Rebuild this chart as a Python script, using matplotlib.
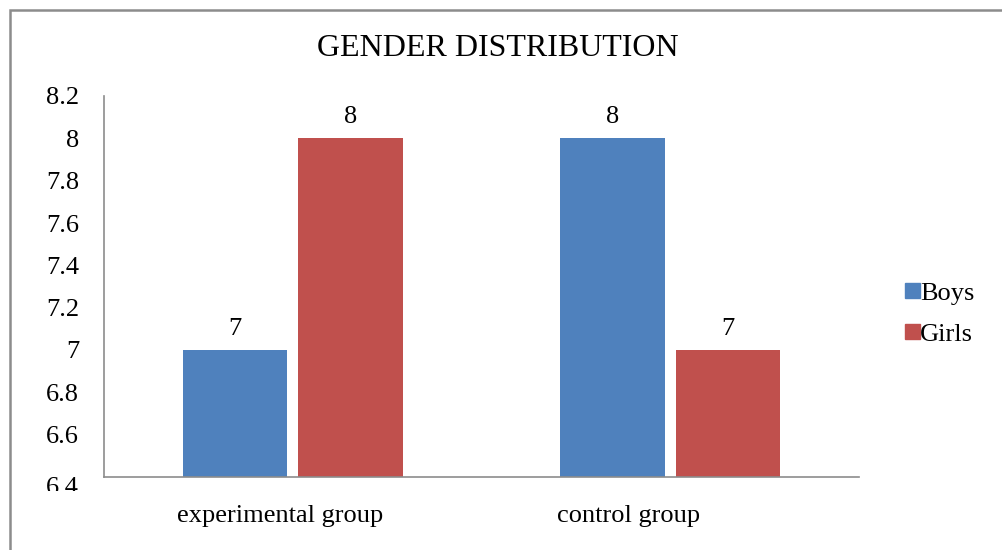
import numpy as np
import matplotlib
matplotlib.use('Agg')
import matplotlib.pyplot as plt
import matplotlib.transforms as mtrans
from matplotlib.patches import Rectangle, Patch

groups = ['experimental group', 'control group']
boys = [7, 8]
girls = [8, 7]
yticks = [6.4, 6.6, 6.8, 7, 7.2, 7.4, 7.6, 7.8, 8, 8.2]
ytick_labels = ['6.4', '6.6', '6.8', '7', '7.2', '7.4', '7.6', '7.8', '8', '8.2']

plt.rcParams['font.family'] = ['Liberation Serif', 'DejaVu Serif']

W, H = 1002, 550
fig = plt.figure(figsize=(W / 100, H / 100), dpi=100)
ax = fig.add_axes([104 / W, 1 - 477 / H, (859 - 104) / W, (477 - 96) / H])

# outer chart frame (right and bottom edges fall outside the picture)
fig.patches.append(Rectangle((10 / W, -0.1), 1.5, 1 - 10 / H + 0.1,
                             transform=fig.transFigure, fill=False,
                             edgecolor='#8c8c8c', linewidth=1.8))

x = np.arange(len(groups))
bw = 0.276
off = 0.153
b1 = ax.bar(x - off, boys, bw, color='#4F81BD', label='Boys', zorder=2)
b2 = ax.bar(x + off, girls, bw, color='#C0504D', label='Girls', zorder=2)

for bars in (b1, b2):
    for r in bars:
        ax.annotate('%g' % r.get_height(), (r.get_x() + r.get_width() / 2, r.get_height()),
                    xytext=(0, 11), textcoords='offset points',
                    ha='center', va='baseline', fontsize=19)

ax.set_xlim(-0.5, 1.5)
ax.set_ylim(6.4, 8.2)
ax.set_yticks(yticks)
ax.set_yticklabels(ytick_labels, fontsize=19)
ax.set_xticks(x)
ax.set_xticklabels(groups, fontsize=19)
ax.tick_params(axis='both', length=0)
ax.tick_params(axis='y', pad=18)
ax.tick_params(axis='x', pad=20)

# category labels sit a bit left of the bar pairs in the original
for lab, dx in zip(ax.get_xticklabels(), [-13, -42]):
    lab.set_transform(lab.get_transform() + mtrans.Affine2D().translate(dx, 0))

for s in ['top', 'right']:
    ax.spines[s].set_visible(False)
for s in ['left', 'bottom']:
    ax.spines[s].set_color('#8c8c8c')
    ax.spines[s].set_linewidth(1.2)

# bottom tick label sits low and is cut off in the original
lab = ax.get_yticklabels()[0]
lab.set_transform(lab.get_transform() + mtrans.Affine2D().translate(0, -9))
cbox = mtrans.TransformedBbox(mtrans.Bbox([[0, 1 - 491 / H], [1, 1]]), fig.transFigure)
lab.set_clip_on(True)
lab.set_clip_box(cbox)

fig.text(498 / W, 1 - 49 / H, 'GENDER DISTRIBUTION', ha='center', va='center', fontsize=23)

handles = [Patch(color='#4F81BD', label='Boys'), Patch(color='#C0504D', label='Girls')]
fig.legend(handles=handles, loc='upper left', bbox_to_anchor=(905 / W, 1 - 283 / H),
           frameon=False, fontsize=19, handlelength=0.57, handleheight=0.49,
           handletextpad=0.0, labelspacing=0.73, borderaxespad=0, borderpad=0)

fig.savefig('out.png', dpi=100)
